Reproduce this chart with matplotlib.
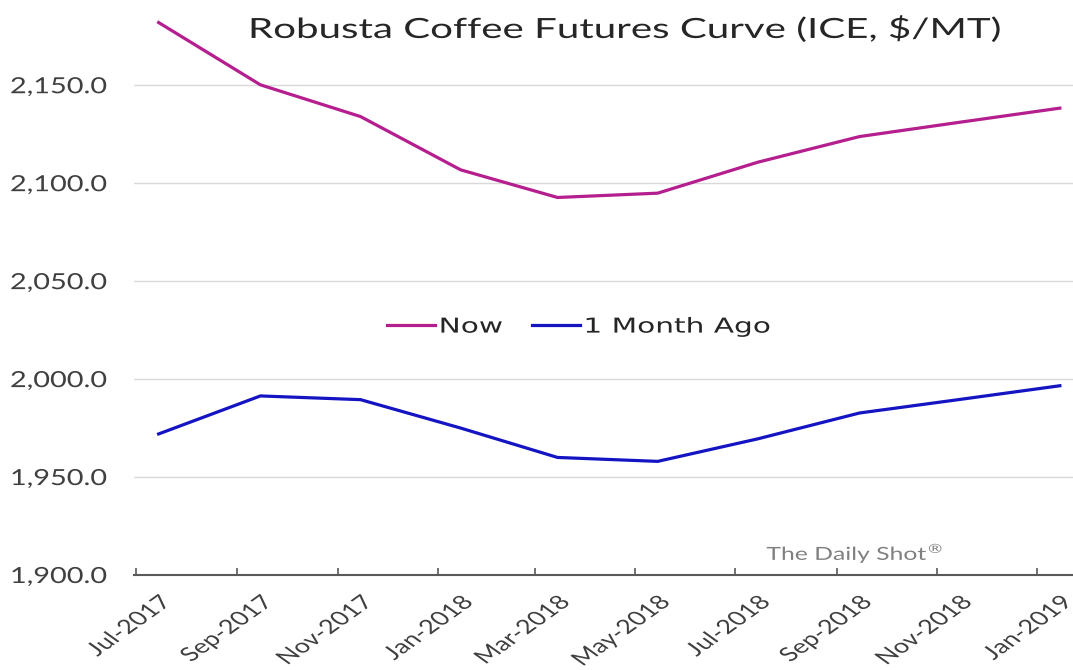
import matplotlib
matplotlib.use('Agg')
import matplotlib.pyplot as plt
import matplotlib.dates as mdates
import matplotlib.ticker as mticker
from matplotlib.patheffects import AbstractPathEffect
from matplotlib.transforms import Affine2D
import pandas as pd

# Robusta futures contract months (points sit mid-month)
contracts = ['2017-07-15', '2017-09-15', '2017-11-15', '2018-01-15', '2018-03-15',
             '2018-05-15', '2018-07-15', '2018-09-15', '2018-11-15', '2019-01-15']
now = [2182.0, 2150.2, 2134.0, 2106.8, 2092.7, 2094.9, 2110.7, 2123.8, 2131.1, 2138.3]
month_ago = [1972.0, 1991.4, 1989.5, 1975.0, 1960.0, 1958.0, 1969.5, 1982.7, 1989.6, 1996.6]

dates = pd.to_datetime(contracts)


class Widen(AbstractPathEffect):
    """Stretch text glyphs horizontally (in screen space) about one end of the string."""

    def __init__(self, sx, anchor='center'):
        super().__init__()
        self.sx = sx
        self.anchor = anchor

    def draw_path(self, renderer, gc, tpath, affine, rgbFace=None):
        ext = tpath.get_extents()
        lx = {'left': ext.x0, 'center': (ext.x0 + ext.x1) / 2, 'right': ext.x1}[self.anchor]
        ly = ext.y1 if self.anchor == 'right' else ext.y0
        px, py = affine.transform((lx, ly))
        stretch = Affine2D().translate(-px, -py).scale(self.sx, 1).translate(px, py)
        renderer.draw_path(gc, tpath, affine + stretch, rgbFace)


fig = plt.figure(figsize=(10.73, 6.70), dpi=100)
ax = fig.add_axes([134 / 1073, 95 / 670, 1 - 134 / 1073, 1 - 95 / 670])

ax.plot(dates, now, color='#B51E8E', lw=2.3, label='Now')
ax.plot(dates, month_ago, color='#1414C2', lw=2.3, label='1 Month Ago')

ax.set_ylim(1900, 2193.5)
ax.set_xlim(pd.Timestamp('2017-06-30'), pd.Timestamp('2019-01-23'))
ax.yaxis.set_major_locator(mticker.MultipleLocator(50))
ax.yaxis.set_major_formatter(mticker.FuncFormatter(lambda v, p: f'{v:,.1f}'))
ax.grid(axis='y', color='#d9d9d9', lw=1)
ax.set_axisbelow(True)

# tick marks on the 1st, labels under each contract point
ax.xaxis.set_major_locator(mdates.MonthLocator(bymonth=[1, 3, 5, 7, 9, 11], bymonthday=1))
ax.xaxis.set_major_formatter(mticker.NullFormatter())
ax.xaxis.set_minor_locator(mdates.MonthLocator(bymonth=[1, 3, 5, 7, 9, 11], bymonthday=15))
ax.xaxis.set_minor_formatter(mdates.DateFormatter('%b-%Y'))
ax.tick_params(axis='x', which='major', direction='in', length=5, width=1.2, color='#595959')
ax.tick_params(axis='x', which='minor', length=0, pad=13)
ax.tick_params(axis='y', length=0, pad=19.5)

for lab in ax.get_xticklabels(minor=True):
    lab.set_rotation(45)
    lab.set_ha('right')
    lab.set_va('top')
    lab.set_rotation_mode('anchor')
    lab.set_family('Lato')
    lab.set_fontsize(14)
    lab.set_color('#404040')
    lab.set_path_effects([Widen(1.4, 'right')])
for lab in ax.get_yticklabels():
    lab.set_family('Lato')
    lab.set_fontsize(16)
    lab.set_color('#404040')
    lab.set_path_effects([Widen(1.3, 'right')])

for side in ['top', 'right', 'left']:
    ax.spines[side].set_visible(False)
ax.spines['bottom'].set_color('#595959')
ax.spines['bottom'].set_linewidth(1.5)

ax.text(0.5234, 0.934, 'Robusta Coffee Futures Curve (ICE, $/MT)', transform=ax.transAxes,
        ha='center', va='baseline', fontsize=20, family='Lato', color='#262626',
        path_effects=[Widen(1.45, 'center')])
ax.text(0.8616, 0.026, 'The Daily Shot$^{\u00ae}$', transform=ax.transAxes,
        ha='right', va='baseline', fontsize=13, family='Lato', color='#808080',
        path_effects=[Widen(1.37, 'right')])

leg = ax.legend(loc='center', bbox_to_anchor=(0.444, 0.432), ncol=2, frameon=False,
                prop={'family': 'DejaVu Sans', 'size': 14.8}, handlelength=2.33,
                handletextpad=0.2, columnspacing=2.34, labelcolor='#262626')
for t in leg.get_texts():
    t.set_path_effects([Widen(1.44, 'left')])

fig.savefig('out.png', dpi=100)
